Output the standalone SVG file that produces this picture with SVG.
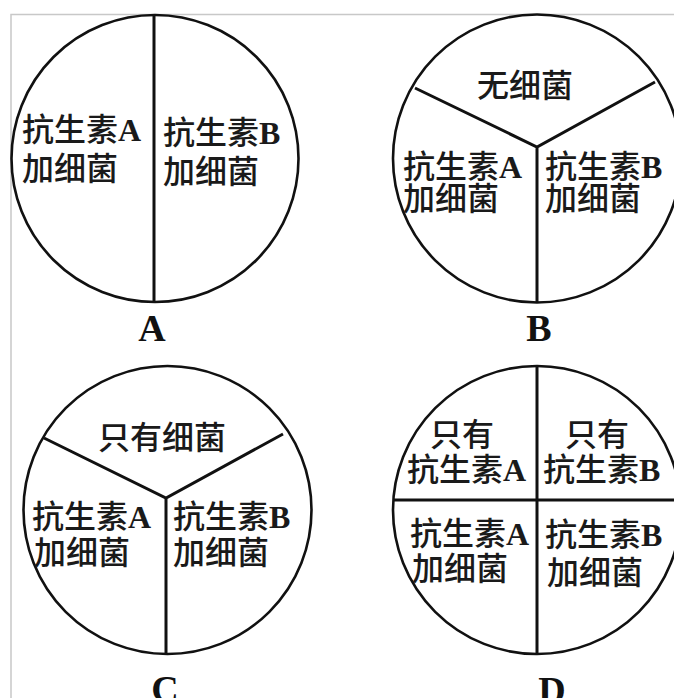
<svg xmlns="http://www.w3.org/2000/svg" width="674" height="698" viewBox="0 0 674 698">
<style>
.frame{stroke:#c8c8c8;stroke-width:1.5;fill:none}
.dish{fill:none;stroke:#111;stroke-width:2.6}
.div{stroke:#111;stroke-width:3;fill:none;stroke-linejoin:miter}
.t{font-family:"Noto Sans CJK SC","Noto Sans CJK JP",sans-serif;font-size:32px;font-weight:500;fill:#1a1a1a}
.l{font-family:"Liberation Serif","Noto Sans CJK SC",serif;font-weight:bold}
.cap{font-family:"Liberation Serif",serif;font-size:38px;font-weight:bold;fill:#111;text-anchor:middle}
</style>
<rect width="674" height="698" fill="#fff"/>
<path class="frame" d="M11,698 V14.5 H674"/>
<g id="dishA">
<circle class="dish" cx="155" cy="158.5" r="143.5"/>
<text class="t" x="22" y="141">抗生素<tspan class="l">A</tspan></text>
<text class="t" x="22" y="180">加细菌</text>
<text class="t" x="163" y="144">抗生素<tspan class="l">B</tspan></text>
<text class="t" x="163" y="183">加细菌</text>
<text class="cap" x="152" y="341">A</text>
</g>
<g id="dishB">
<circle class="dish" cx="537" cy="158.5" r="144"/>
<text class="t" x="477" y="97">无细菌</text>
<text class="t" x="403" y="178">抗生素<tspan class="l">A</tspan></text>
<text class="t" x="403" y="210">加细菌</text>
<text class="t" x="545" y="178">抗生素<tspan class="l">B</tspan></text>
<text class="t" x="545" y="210">加细菌</text>
<text class="cap" x="539" y="341">B</text>
</g>
<g id="dishC">
<circle class="dish" cx="167.5" cy="510" r="144"/>
<text class="t" x="98" y="449">只有细菌</text>
<text class="t" x="32" y="528">抗生素<tspan class="l">A</tspan></text>
<text class="t" x="34" y="564">加细菌</text>
<text class="t" x="173" y="528">抗生素<tspan class="l">B</tspan></text>
<text class="t" x="173" y="564">加细菌</text>
<text class="cap" x="165" y="702">C</text>
</g>
<g id="dishD">
<circle class="dish" cx="537" cy="510" r="144"/>
<text class="t" x="430" y="446">只有</text>
<text class="t" x="407" y="481">抗生素<tspan class="l">A</tspan></text>
<text class="t" x="565" y="446">只有</text>
<text class="t" x="543" y="481">抗生素<tspan class="l">B</tspan></text>
<text class="t" x="410" y="545">抗生素<tspan class="l">A</tspan></text>
<text class="t" x="412" y="580">加细菌</text>
<text class="t" x="545" y="546">抗生素<tspan class="l">B</tspan></text>
<text class="t" x="547" y="584">加细菌</text>
<text class="cap" x="552" y="703">D</text>
</g>
<g id="connectors">
<line class="div" x1="154" y1="15" x2="154" y2="302"/>
<path class="div" d="M415,88 L537,147 L655,82 M537,147 V302.5"/>
<path class="div" d="M44,438 L166,498 L283,434 M166,498 V654"/>
<path class="div" d="M537,366 V654 M393,500 H674"/>
</g>
</svg>
